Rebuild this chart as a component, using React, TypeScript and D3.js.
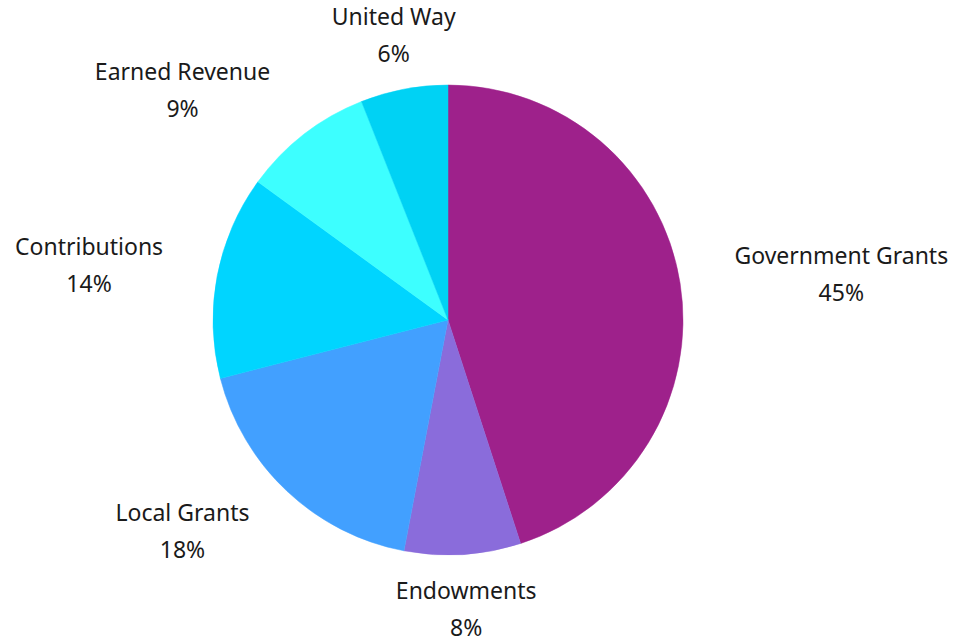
import { useEffect, useRef } from "react";
import * as d3 from "d3";

const categories = ["Government Grants", "Endowments", "Local Grants", "Contributions", "Earned Revenue", "United Way"];
const shares = [45, 8, 18, 14, 9, 6];
const colors = ["#9e218b", "#8a6cdb", "#42a0ff", "#00d5ff", "#3dffff", "#00d2f4"];

export default function App() {
  const ref = useRef<SVGSVGElement>(null);

  useEffect(() => {
    const svg = d3.select(ref.current!);
    svg.selectAll("*").remove();
    const cx = 448,
      cy = 320,
      r = 235;

    const data = categories.map((c, i) => ({ name: c, value: shares[i], color: colors[i] }));
    const pie = d3.pie<any>().sort(null).value((d) => d.value);
    const arcs = pie(data);
    const arc = d3.arc<any>().innerRadius(0).outerRadius(r);
    const labelArc = d3.arc<any>().innerRadius(290).outerRadius(290);

    const g = svg.append("g").attr("transform", `translate(${cx},${cy})`);

    g.selectAll("path")
      .data(arcs)
      .join("path")
      .attr("d", arc)
      .attr("fill", (d) => d.data.color)
      .attr("stroke", (d) => d.data.color)
      .attr("stroke-width", 0.5);

    const lineH = 37;
    const labels = g
      .selectAll("text")
      .data(arcs)
      .join("text")
      .attr("text-anchor", (d) => {
        const s = Math.sin((d.startAngle + d.endAngle) / 2);
        return s > 0.3 ? "start" : s < -0.3 ? "end" : "middle";
      })
      .attr("transform", (d) => {
        const [x, y] = labelArc.centroid(d);
        return `translate(${x},${y - 10.5})`;
      })
      .style("font-family", "'Noto Sans', sans-serif")
      .style("font-size", "23px")
      .attr("fill", "#1a1a1a");

    labels.append("tspan").attr("x", 0).attr("dy", 0).text((d) => d.data.name);
    labels
      .append("tspan")
      .attr("x", 0)
      .attr("dy", lineH)
      .text((d) => `${d.data.value}%`);

    // second line is centred under the first
    labels.each(function (d) {
      const t = d3.select(this);
      const anchor = t.attr("text-anchor");
      if (anchor === "middle") return;
      const w = (t.select("tspan").node() as SVGTSpanElement).getComputedTextLength();
      const shift = anchor === "start" ? w / 2 : -w / 2;
      t.selectAll("tspan").attr("x", shift).attr("text-anchor", "middle");
    });
  }, []);

  return (
    <svg
      ref={ref}
      width={970}
      height={642}
      style={{ position: "absolute", left: 0, top: 0, background: "#fff" }}
    />
  );
}
